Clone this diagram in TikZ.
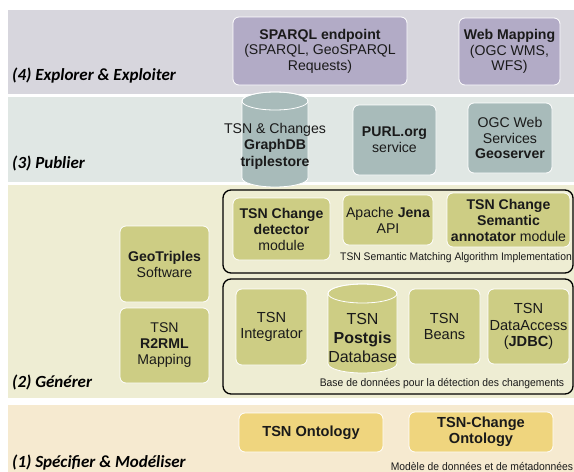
\documentclass[tikz,border=0pt]{standalone}
\usepackage{fontspec}
\setmainfont{Liberation Sans}
\newfontfamily\labfont{Carlito}
\definecolor{bandA}{HTML}{D7D6DD}
\definecolor{boxA}{HTML}{B2ABC6}
\definecolor{bandB}{HTML}{E0E7E4}
\definecolor{boxB}{HTML}{A8BBBA}
\definecolor{bandC}{HTML}{EEEDD3}
\definecolor{boxC}{HTML}{CDCD84}
\definecolor{bandD}{HTML}{F6EAD0}
\definecolor{boxD}{HTML}{EFD57E}
\definecolor{txt}{HTML}{1A1A1A}
\tikzset{
  basebox/.style={rectangle, rounded corners=6pt, draw=white, line width=0.8pt, align=center, text=txt, inner sep=0pt},
  boxa/.style={basebox, fill=boxA, font=\fontsize{14.1}{15.6}\selectfont},
  boxb/.style={basebox, fill=boxB, font=\fontsize{14.1}{15.6}\selectfont},
  boxc/.style={basebox, fill=boxC, font=\fontsize{14.1}{16}\selectfont},
  boxcl/.style={basebox, fill=boxC, font=\fontsize{14.6}{16.6}\selectfont},
  boxd/.style={basebox, fill=boxD, font=\fontsize{14.6}{16}\selectfont},
  layerlab/.style={anchor=west, inner sep=0pt, text=black, font=\labfont\bfseries\itshape\fontsize{17}{20}\selectfont},
  outline/.style={rectangle, rounded corners=8pt, draw=black, line width=1.3pt, inner sep=0pt},
  caption/.style={inner sep=0pt, text=txt, font=\fontsize{11}{13}\selectfont},
  cyl/.style={draw=white, line width=0.8pt}
}
\begin{document}
\begin{tikzpicture}[x=1pt,y=-1pt]
\useasboundingbox (0,0) rectangle (574,472);
\fill[white] (0,0) rectangle (574,472);
% bands
\fill[bandA] (8,10) rectangle (574,94);
\fill[bandB] (8,97) rectangle (574,182);
\fill[bandC] (8,185) rectangle (574,398);
\fill[bandD] (8,405) rectangle (574,472);
% layer labels
\node[layerlab] (l4) at (12,76) {(4) Explorer \& Exploiter};
\node[layerlab] (l3) at (12,163) {(3) Publier};
\node[layerlab] (l2) at (12,382) {(2) Générer};
\node[layerlab] (l1) at (12,463) {(1) Spécifier \& Modéliser};
% layer 4
\node[boxa, minimum width=174pt, minimum height=68pt] (sparql) at (320,51) {\textbf{SPARQL endpoint}\\(SPARQL, GeoSPARQL\\Requests)};
\node[boxa, minimum width=101pt, minimum height=67pt] (wms) at (509.5,51.5) {\textbf{Web Mapping}\\(OGC WMS,\\WFS)};
% layer 3
\path[fill=boxB, cyl] (242,178) arc[start angle=180, end angle=360, x radius=33pt, y radius=9pt] -- (308,101) arc[start angle=0, end angle=180, x radius=33pt, y radius=9pt] -- cycle;
\draw[cyl] (275,101) ellipse[x radius=33pt, y radius=9pt];
\node[align=center, text=txt, inner sep=0pt, font=\fontsize{14.1}{16.5}\selectfont] (graphdb) at (275,146) {TSN \& Changes\\\textbf{GraphDB}\\\textbf{triplestore}};
\node[boxb, minimum width=83pt, minimum height=70pt] (purl) at (394.5,140) {\textbf{PURL.org}\\service};
\node[boxb, minimum width=84pt, minimum height=70pt] (ogc) at (510,138) {OGC Web\\Services\\\textbf{Geoserver}};
% layer 2
\node[boxc, minimum width=89pt, minimum height=76pt] (geotriples) at (164.5,264) {\textbf{GeoTriples}\\Software};
\node[boxc, minimum width=89pt, minimum height=75pt] (r2rml) at (164.5,345.5) {TSN\\\textbf{R2RML}\\Mapping};
\node[outline, minimum width=350pt, minimum height=83pt] (matching) at (398,231.5) {};
\node[boxc, minimum width=97pt, minimum height=62pt] (detector) at (281.5,229) {\textbf{TSN Change}\\\textbf{detector}\\module};
\node[boxc, minimum width=90pt, minimum height=50pt] (jena) at (388,220) {Apache \textbf{Jena}\\API};
\node[boxc, minimum width=123pt, minimum height=54pt] (annotator) at (508.5,220) {\textbf{TSN Change}\\\textbf{Semantic}\\\textbf{annotator} module};
\node[caption] (cap1) at (456,258) {\scalebox{0.94}[1]{TSN Semantic Matching Algorithm Implementation}};
\node[outline, minimum width=350pt, minimum height=115pt] (database) at (398,336.5) {};
\node[boxcl, minimum width=71pt, minimum height=76pt] (integrator) at (271.5,327) {TSN\\Integrator};
\path[fill=boxC, cyl] (328,363.5) arc[start angle=180, end angle=360, x radius=34.5pt, y radius=9.5pt] -- (397,293.5) arc[start angle=0, end angle=180, x radius=34.5pt, y radius=9.5pt] -- cycle;
\draw[cyl] (362.5,293.5) ellipse[x radius=34.5pt, y radius=9.5pt];
\node[align=center, text=txt, inner sep=0pt, font=\fontsize{16}{19}\selectfont] (postgis) at (362.5,338) {TSN\\\textbf{Postgis}\\Database};
\node[boxcl, minimum width=71pt, minimum height=75pt] (beans) at (444.5,326.5) {TSN\\Beans};
\node[boxcl, minimum width=81pt, minimum height=75pt] (dataaccess) at (528.5,326.5) {TSN\\DataAccess\\(\textbf{JDBC})};
\node[caption] (cap2) at (442,384) {\scalebox{0.94}[1]{Base de données pour la détection des changements}};
% layer 1
\node[boxd, minimum width=144pt, minimum height=39pt] (tsnonto) at (311,432.5) {\textbf{TSN Ontology}};
\node[boxd, minimum width=144pt, minimum height=40pt] (changeonto) at (481,432) {\textbf{TSN-Change}\\\textbf{Ontology}};
\node[caption] (cap3) at (482,466) {\scalebox{0.94}[1]{Modèle de données et de métadonnées}};
\end{tikzpicture}
\end{document}
